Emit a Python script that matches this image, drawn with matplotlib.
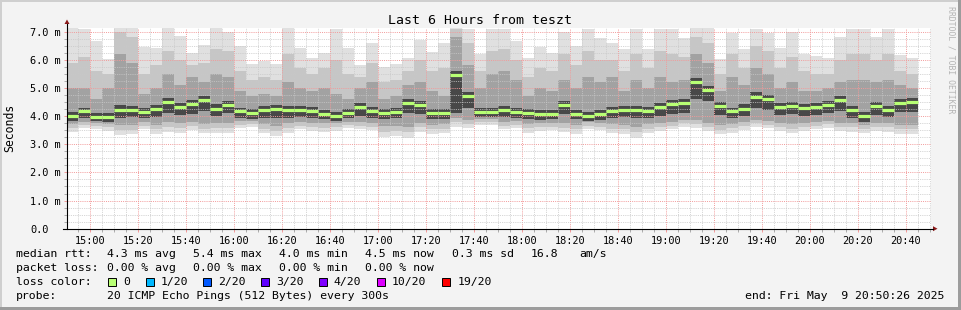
import numpy as np
import matplotlib
matplotlib.use('Agg')
import matplotlib.pyplot as plt
from matplotlib.patches import Rectangle, Polygon
from matplotlib.lines import Line2D

W, H = 961, 310
FONT = 'DejaVu Sans Mono'

# one 5 minute step per bar, first step starts 14:50
t_first = 14 * 60 + 50   # minutes since midnight
step = 5

# median rtt per step (ms)
median = [4.00, 4.17, 3.97, 3.97, 4.21, 4.21, 4.15, 4.24, 4.49, 4.32,
          4.42, 4.57, 4.27, 4.38, 4.17, 4.11, 4.22, 4.25, 4.21, 4.22,
          4.18, 4.07, 4.02, 4.11, 4.32, 4.18, 4.12, 4.15, 4.46, 4.38,
          4.12, 4.12, 5.45, 4.72, 4.15, 4.15, 4.22, 4.14, 4.11, 4.06,
          4.09, 4.39, 4.08, 3.99, 4.06, 4.18, 4.22, 4.21, 4.18, 4.32,
          4.42, 4.48, 5.20, 4.93, 4.36, 4.17, 4.27, 4.68, 4.60, 4.33,
          4.36, 4.29, 4.33, 4.39, 4.57, 4.22, 3.99, 4.36, 4.22, 4.47, 4.50]

# slowest / fastest ping per step (ms)
ping_max = [7.2, 7.1, 6.67, 6.02, 7.2, 7.2, 6.45, 6.41, 7.2, 6.85,
            6.25, 6.53, 7.2, 7.0, 6.49, 5.84, 5.96, 5.84, 7.2, 6.41,
            6.08, 6.23, 7.1, 6.43, 5.82, 6.59, 5.76, 5.85, 6.08, 6.7,
            6.29, 6.59, 7.2, 7.1, 6.2, 7.1, 7.1, 6.67, 6.05, 6.47,
            6.23, 6.98, 6.5, 7.1, 6.79, 6.59, 6.39, 7.1, 6.4, 7.1,
            7.1, 6.77, 7.2, 7.2, 6.02, 6.97, 6.38, 7.1, 6.94, 6.41,
            7.0, 6.2, 6.14, 6.06, 6.82, 7.1, 7.1, 6.82, 7.1, 6.17, 6.06]
ping_min = [3.45, 3.57, 3.53, 3.48, 3.33, 3.37, 3.53, 3.37, 3.45, 3.41,
            3.50, 3.39, 3.39, 3.41, 3.59, 3.63, 3.39, 3.29, 3.41, 3.53,
            3.47, 3.44, 3.48, 3.57, 3.53, 3.50, 3.27, 3.30, 3.23, 3.45,
            3.37, 3.39, 3.63, 3.57, 3.68, 3.68, 3.53, 3.57, 3.41, 3.47,
            3.50, 3.43, 3.37, 3.53, 3.50, 3.39, 3.36, 3.23, 3.39, 3.47,
            3.53, 3.63, 3.59, 3.48, 3.35, 3.41, 3.50, 3.63, 3.57, 3.47,
            3.39, 3.48, 3.53, 3.59, 3.47, 3.45, 3.41, 3.48, 3.45, 3.36, 3.36]

# light-grey smoke band
soft_hi = [5.9, 6.1, 5.6, 5.5, 7.0, 6.8, 5.5, 5.8, 6.3, 6.0,
           5.8, 5.9, 6.4, 6.3, 5.6, 5.3, 5.4, 5.3, 6.2, 5.7,
           5.5, 5.7, 6.0, 5.5, 5.4, 5.9, 5.2, 5.3, 5.6, 6.0,
           5.6, 5.7, 7.1, 6.6, 5.6, 6.3, 6.4, 6.0, 5.4, 5.7,
           5.6, 6.2, 5.8, 6.3, 6.0, 6.0, 5.6, 6.2, 5.7, 6.3,
           6.2, 6.1, 6.8, 6.6, 5.5, 6.2, 5.7, 6.5, 6.3, 5.7,
           6.1, 5.6, 5.5, 5.5, 6.0, 6.2, 6.2, 6.0, 6.2, 5.6, 5.5]
soft_lo = [3.58, 3.68, 3.64, 3.60, 3.50, 3.52, 3.66, 3.53, 3.62, 3.57,
           3.64, 3.55, 3.56, 3.58, 3.70, 3.73, 3.55, 3.47, 3.58, 3.66,
           3.61, 3.59, 3.62, 3.68, 3.66, 3.63, 3.45, 3.48, 3.42, 3.60,
           3.53, 3.55, 3.79, 3.71, 3.78, 3.78, 3.66, 3.70, 3.56, 3.61,
           3.63, 3.58, 3.53, 3.65, 3.63, 3.55, 3.53, 3.42, 3.55, 3.61,
           3.66, 3.74, 3.72, 3.62, 3.51, 3.56, 3.64, 3.74, 3.70, 3.61,
           3.55, 3.62, 3.66, 3.71, 3.61, 3.60, 3.55, 3.62, 3.60, 3.53, 3.53]

# middle smoke band
mid_hi = [5.0, 5.0, 4.6, 5.0, 6.2, 5.9, 4.8, 5.0, 5.5, 5.1,
          5.4, 5.2, 5.5, 5.4, 4.9, 4.7, 4.8, 4.7, 5.2, 5.0,
          4.9, 5.0, 4.8, 4.6, 5.0, 5.2, 4.6, 4.7, 5.1, 5.2,
          4.9, 4.7, 6.8, 5.8, 5.0, 5.5, 5.6, 5.3, 4.7, 5.0,
          4.9, 5.3, 5.0, 5.4, 5.2, 5.4, 4.9, 5.3, 5.0, 5.4,
          5.2, 5.3, 6.2, 5.9, 4.9, 5.4, 5.1, 5.7, 5.5, 5.0,
          5.2, 4.9, 4.9, 5.0, 5.2, 5.3, 5.3, 5.2, 5.3, 5.1, 5.0]
mid_lo = [3.72, 3.80, 3.75, 3.72, 3.70, 3.68, 3.78, 3.70, 3.80, 3.74,
          3.78, 3.72, 3.74, 3.76, 3.82, 3.84, 3.72, 3.66, 3.75, 3.80,
          3.76, 3.74, 3.75, 3.80, 3.78, 3.76, 3.64, 3.66, 3.62, 3.74,
          3.70, 3.72, 3.95, 3.85, 3.88, 3.88, 3.80, 3.82, 3.72, 3.75,
          3.76, 3.74, 3.70, 3.78, 3.76, 3.72, 3.70, 3.62, 3.72, 3.76,
          3.80, 3.86, 3.85, 3.76, 3.68, 3.72, 3.78, 3.86, 3.82, 3.76,
          3.72, 3.76, 3.80, 3.84, 3.76, 3.74, 3.70, 3.76, 3.74, 3.70, 3.70]

# dark core around the median
core_hi = [4.15, 4.30, 4.10, 4.12, 4.38, 4.35, 4.28, 4.38, 4.65, 4.48,
           4.58, 4.72, 4.42, 4.52, 4.30, 4.24, 4.36, 4.38, 4.36, 4.35,
           4.32, 4.22, 4.16, 4.25, 4.48, 4.32, 4.26, 4.30, 4.62, 4.52,
           4.26, 4.26, 5.60, 4.86, 4.28, 4.30, 4.36, 4.28, 4.24, 4.20,
           4.22, 4.52, 4.22, 4.14, 4.20, 4.32, 4.36, 4.36, 4.32, 4.46,
           4.56, 4.62, 5.35, 5.08, 4.50, 4.30, 4.42, 4.84, 4.74, 4.46,
           4.50, 4.42, 4.46, 4.52, 4.72, 4.36, 4.14, 4.50, 4.36, 4.60, 4.64]
core_lo = [3.82, 3.92, 3.82, 3.80, 3.95, 3.98, 3.92, 3.98, 4.12, 4.05,
           4.08, 4.18, 4.00, 4.10, 3.92, 3.90, 3.95, 3.95, 3.95, 3.98,
           3.94, 3.88, 3.84, 3.92, 4.02, 3.95, 3.88, 3.92, 4.10, 4.08,
           3.90, 3.88, 4.12, 4.30, 3.96, 3.96, 3.98, 3.94, 3.90, 3.86,
           3.88, 4.06, 3.88, 3.82, 3.86, 3.95, 3.96, 3.92, 3.94, 4.02,
           4.08, 4.10, 4.62, 4.55, 4.05, 3.95, 4.00, 4.30, 4.20, 4.04,
           4.06, 4.02, 4.04, 4.10, 4.18, 3.95, 3.80, 4.05, 3.96, 4.14, 4.15]

loss_labels = ['0', '1/20', '2/20', '3/20', '4/20', '10/20', '19/20']
loss_colors = ['#b8ff74', '#00b8ff', '#0059ff', '#5e00ff', '#7e00ff', '#dd00ff', '#ff0000']

view_start = 14 * 60 + 50 + 26 / 60
view_end = view_start + 6 * 60


def fx(x):
    return x / W


def fy(y):
    return 1 - y / H


fig = plt.figure(figsize=(W / 100, H / 100), dpi=100, facecolor='#f3f3f3')
ax = fig.add_axes([fx(67), fy(228.7), 864 / W, 200.7 / H])
ax.set_facecolor('white')
ax.set_xlim(view_start, view_end)
ax.set_ylim(0, 7.13)

t = t_first + step * np.arange(len(median))
kw = dict(width=step, align='edge', linewidth=0, antialiased=False)
bands = [
    (ping_min, ping_max, '#e0e0e0'),
    (soft_lo, soft_hi, '#c6c6c6'),
    (mid_lo, mid_hi, '#a2a2a2'),
    (core_lo, core_hi, '#484848'),
]
for i, (lo, hi, c) in enumerate(bands):
    lo, hi = np.array(lo), np.array(hi)
    ax.bar(t, hi - lo, bottom=lo, color=c, zorder=1 + i * 0.1, **kw)

# grid (rrdtool draws it over the smoke)
dots = (0, (1, 1.2))
for m in np.arange(895, 1251, 5):
    if m % 20 == 0:
        ax.axvline(m, color='#f29a9a', lw=0.7, ls=dots, zorder=2)
    else:
        ax.axvline(m, color='#c8c8c8', lw=0.6, ls=dots, zorder=2)
for v in np.arange(0.25, 7.1, 0.25):
    if v % 1 == 0:
        ax.axhline(v, color='#f29a9a', lw=0.7, ls=dots, zorder=2)
    else:
        ax.axhline(v, color='#c8c8c8', lw=0.6, ls=dots, zorder=2)

# median line, coloured by loss (all 0 here)
ax.hlines(median, t, t + step, color=loss_colors[0], lw=2.3, zorder=3)

for s in ax.spines.values():
    s.set_visible(False)

major_x = np.arange(900, 1250, 20)
ax.set_xticks(major_x, ['%02d:%02d' % (m // 60, m % 60) for m in major_x])
ax.set_xticks(np.arange(895, 1251, 5), minor=True)
ax.set_yticks(range(8), ['0.0'] + ['%d.0 m' % i for i in range(1, 8)])
ax.set_yticks(np.arange(0, 7.1, 0.25), minor=True)
ax.tick_params(axis='x', which='major', length=2, width=0.7, color='#f29a9a',
               pad=3, labelsize=7.4)
# labels start at x=30 px, left aligned like rrdtool does
ax.tick_params(axis='y', which='major', length=2, width=0.7, color='#f29a9a',
               pad=(67 - 30) * 0.72 - 2, labelsize=7.4)
ax.tick_params(which='minor', length=2, width=0.6, color='#a0a0a0')
for lab in ax.get_xticklabels() + ax.get_yticklabels():
    lab.set_family(FONT)
for lab in ax.get_yticklabels():
    lab.set_ha('left')

# axis lines with rrdtool's arrow heads
fig.add_artist(Line2D([fx(67), fx(67)], [fy(228.7), fy(24)], color='black', lw=0.8))
fig.add_artist(Line2D([fx(63), fx(933)], [fy(228.7), fy(228.7)], color='black', lw=0.8))
fig.add_artist(Polygon([(fx(64.5), fy(24)), (fx(69.5), fy(24)), (fx(67), fy(19.5))],
                       closed=True, color='#8b1a1a', lw=0))
fig.add_artist(Polygon([(fx(933), fy(226.2)), (fx(933), fy(231.2)), (fx(937.5), fy(228.7))],
                       closed=True, color='#8b1a1a', lw=0))

fig.text(fx(480), fy(20), 'Last 6 Hours from teszt', family=FONT, fontsize=9.5,
         ha='center', va='center')
fig.text(fx(10), fy(128), 'Seconds', family=FONT, fontsize=8.3, rotation=90,
         ha='center', va='center')
fig.text(fx(951.5), fy(60), 'RRDTOOL / TOBI OETIKER', family=FONT, fontsize=5.9,
         rotation=-90, ha='center', va='center', color='#b4b4b4')

# legend block
rows = [
    (254.3, [(16, 'median rtt:'), (107.3, '4.3 ms avg'), (193.3, '5.4 ms max'),
             (279.3, '4.0 ms min'), (365, '4.5 ms now'), (451.7, '0.3 ms sd'),
             (530.7, '16.8'), (579.3, 'am/s')]),
    (267.7, [(16, 'packet loss:'), (107.3, '0.00 % avg'), (193.3, '0.00 % max'),
             (279.3, '0.00 % min'), (365, '0.00 % now')]),
    (282.3, [(16, 'loss color:')]),
    (296, [(16, 'probe:'), (107.3, '20 ICMP Echo Pings (512 Bytes) every 300s')]),
]
for y, items in rows:
    for x, s in items:
        fig.text(fx(x), fy(y), s, family=FONT, fontsize=8.25, ha='left', va='center')

box_x = [108.3, 145.7, 203.3, 261, 319, 376.7, 442.3]
text_x = [123.3, 160.7, 218.3, 276, 333.3, 391.7, 457.3]
for bx, tx, lab, c in zip(box_x, text_x, loss_labels, loss_colors):
    fig.add_artist(Rectangle((fx(bx), fy(286.3)), 8 / W, 8 / H, facecolor=c,
                             edgecolor='black', lw=0.7))
    fig.text(fx(tx), fy(282.3), lab, family=FONT, fontsize=8.25, ha='left', va='center')

fig.text(fx(944), fy(296), 'end: Fri May  9 20:50:26 2025', family=FONT,
         fontsize=8.25, ha='right', va='center')

# 3d frame of the rrdtool canvas
fig.add_artist(Rectangle((0, fy(2)), 1, 2 / H, color='#cfcfcf', lw=0))
fig.add_artist(Rectangle((0, 0), 2 / W, 1, color='#cfcfcf', lw=0))
fig.add_artist(Rectangle((0, 0), 1, 3 / H, color='#9c9c9c', lw=0))
fig.add_artist(Rectangle((fx(958), 0), 3 / W, 1, color='#9c9c9c', lw=0))

fig.savefig('out.png', dpi=100, facecolor=fig.get_facecolor())
